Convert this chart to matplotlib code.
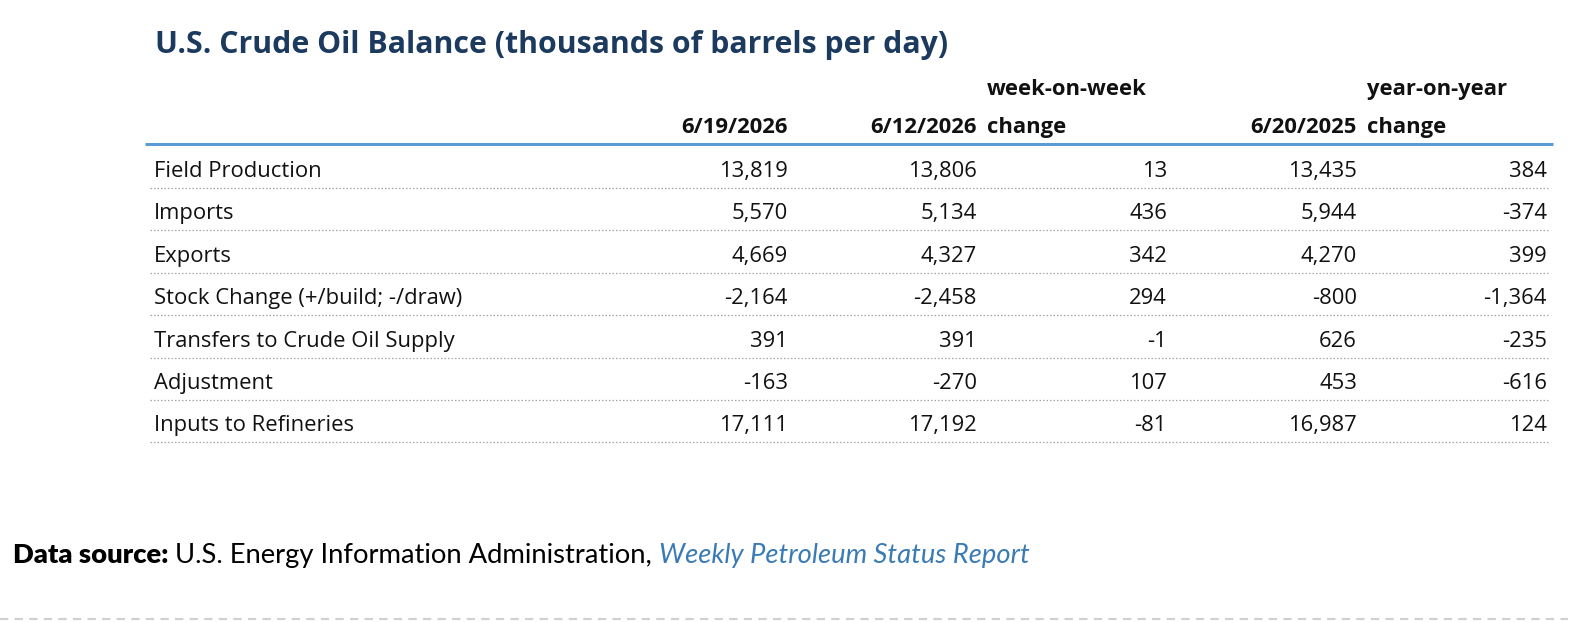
import matplotlib
matplotlib.use("Agg")
from matplotlib import pyplot as plt

# table content
title = "U.S. Crude Oil Balance (thousands of barrels per day)"
row_labels = ["Field Production", "Imports", "Exports", "Stock Change (+/build; -/draw)",
              "Transfers to Crude Oil Supply", "Adjustment", "Inputs to Refineries"]
col_top = ["", "", "week-on-week", "", "year-on-year"]
col_bottom = ["6/19/2026", "6/12/2026", "change", "6/20/2025", "change"]
week_now = [13819, 5570, 4669, -2164, 391, -163, 17111]
week_prev = [13806, 5134, 4327, -2458, 391, -270, 17192]
wow_change = [13, 436, 342, 294, -1, 107, -81]
year_ago = [13435, 5944, 4270, -800, 626, 453, 16987]
yoy_change = [384, -374, 399, -1364, -235, -616, 124]
source_bold = "Data source:"
source_text = " U.S. Energy Information Administration, "
source_link = "Weekly Petroleum Status Report"

W, H = 1578, 622
fig = plt.figure(figsize=(W / 100, H / 100), dpi=100)
ax = fig.add_axes([0, 0, 1, 1])
ax.set_xlim(0, W)
ax.set_ylim(H, 0)
ax.axis("off")

font = "Open Sans"
navy = "#1b3a5e"
txt = "#111111"
fs = 15.8

ax.text(155, 53, title, fontsize=21.8, fontweight="bold", color=navy, family=font,
        va="baseline", ha="left")

# columns: right edge for numbers, "change" headers sit left-aligned after the date
num_right = [788, 977, 1167, 1357, 1547]
hdr_x = [788, 977, 987, 1357, 1367]
hdr_ha = ["right", "right", "left", "right", "left"]
for i in range(5):
    if col_top[i]:
        ax.text(hdr_x[i], 95, col_top[i], fontsize=fs, fontweight="bold", color=txt,
                family=font, ha=hdr_ha[i], va="baseline")
    ax.text(hdr_x[i], 133, col_bottom[i], fontsize=fs, fontweight="bold", color=txt,
            family=font, ha=hdr_ha[i], va="baseline")

ax.plot([145, 1553], [144, 144], color="#5b9bd5", lw=2.2, solid_capstyle="butt")

columns = [week_now, week_prev, wow_change, year_ago, yoy_change]
row_y0, row_step = 177, 42.4
for r, label in enumerate(row_labels):
    y = row_y0 + r * row_step
    ax.text(154, y, label, fontsize=fs, color=txt, family=font, ha="left", va="baseline")
    for c, vals in enumerate(columns):
        ax.text(num_right[c], y, f"{vals[r]:,}", fontsize=fs, color=txt, family=font,
                ha="right", va="baseline")
    ax.plot([150, 1548], [y + 11, y + 11], color="#a6a6a6", lw=0.9, ls=(0, (1.2, 1.6)))

# footer
ffont = "Lato"
fsz = 19.7
t1 = ax.text(13, 563, source_bold, fontsize=fsz, fontweight="heavy", color="#000000",
             family=ffont, ha="left", va="baseline")
fig.canvas.draw()
bb = t1.get_window_extent()
t2 = ax.text(bb.x1, 563, source_text, fontsize=fsz, color="#000000", family=ffont,
             ha="left", va="baseline")
bb = t2.get_window_extent()
ax.text(bb.x1, 563, source_link, fontsize=fsz, style="italic", color="#3a7bb5",
        family=ffont, ha="left", va="baseline")

ax.plot([0, 1568], [619, 619], color="#d0d0d0", lw=1.5, ls=(0, (4, 3)))

fig.savefig("out.png", dpi=100)
